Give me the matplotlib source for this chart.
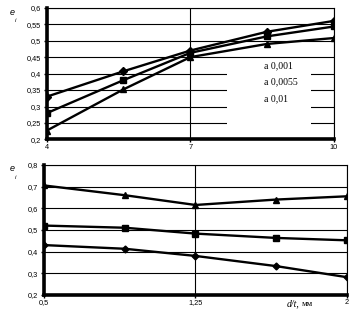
import matplotlib
matplotlib.use("Agg")
import matplotlib.pyplot as plt
from matplotlib.ticker import FuncFormatter

# Top chart data
x_top = [4, 5.6, 7, 8.6, 10]
top_diamond = [0.33, 0.407, 0.47, 0.527, 0.56]
top_square = [0.28, 0.38, 0.463, 0.513, 0.543]
top_triangle = [0.227, 0.352, 0.45, 0.49, 0.508]
top_labels = ["a 0,001", "a 0,0055", "a 0,01"]

# Bottom chart data
x_bot = [0.5, 0.9, 1.25, 1.65, 2.0]
bot_triangle = [0.705, 0.66, 0.615, 0.64, 0.655]
bot_square = [0.52, 0.51, 0.483, 0.463, 0.452]
bot_diamond = [0.43, 0.413, 0.38, 0.333, 0.282]

fig = plt.figure(figsize=(3.5, 3.22), dpi=100)
fig.patch.set_facecolor("white")

tickfont = dict(family="Liberation Sans", size=5.3)

def comma(v, pos):
    s = ("%.2f" % v).rstrip("0").rstrip(".")
    return s.replace(".", ",")

def style(ax):
    for s in ["left", "bottom"]:
        ax.spines[s].set_linewidth(2.6)
    for s in ["right", "top"]:
        ax.spines[s].set_linewidth(0.8)
    ax.grid(True, color="black", linewidth=0.8)
    ax.set_axisbelow(True)
    ax.tick_params(axis="y", direction="out", length=2.5, width=1.0, pad=2)
    ax.tick_params(axis="x", direction="out", length=2.0, width=1.0, pad=1)
    for lab in ax.get_xticklabels() + ax.get_yticklabels():
        lab.set_fontfamily(tickfont["family"])
        lab.set_fontsize(tickfont["size"])
    ax.yaxis.set_major_formatter(FuncFormatter(comma))
    ax.xaxis.set_major_formatter(FuncFormatter(comma))

lw = 1.7
# Top axes
ax1 = fig.add_axes([0.134, 0.567, 0.820, 0.409])
ax1.plot(x_top, top_diamond, color="black", lw=lw, marker="D", ms=4, zorder=3)
ax1.plot(x_top, top_square, color="black", lw=lw, marker="s", ms=4.5, zorder=3)
ax1.plot(x_top, top_triangle, color="black", lw=lw, marker="^", ms=5, zorder=3)
ax1.set_xlim(4, 10)
ax1.set_ylim(0.2, 0.6)
ax1.set_xticks([4, 7, 10])
ax1.set_yticks([0.2, 0.25, 0.3, 0.35, 0.4, 0.45, 0.5, 0.55, 0.6])
style(ax1)
# legend box (white, no frame)
ax1.fill_between([7.76, 9.52], 0.205, 0.443, color="white", zorder=2.5, lw=0)
for lab, yy in zip(top_labels, [0.425, 0.375, 0.324]):
    ax1.text(8.54, yy, lab, family="Liberation Serif", style="normal", size=7,
             va="center", ha="left", zorder=4)
fig.text(0.036, 0.962, "e", family="Liberation Sans", style="italic", size=6.5, ha="center", va="center")
fig.text(0.044, 0.936, "i", family="Liberation Sans", style="italic", size=4.5, ha="center", va="center")

# Bottom axes
ax2 = fig.add_axes([0.126, 0.084, 0.865, 0.404])
ax2.plot(x_bot, bot_triangle, color="black", lw=lw, marker="^", ms=5, zorder=3)
ax2.plot(x_bot, bot_square, color="black", lw=lw, marker="s", ms=4.5, zorder=3)
ax2.plot(x_bot, bot_diamond, color="black", lw=lw, marker="D", ms=3.5, zorder=3)
ax2.set_xlim(0.5, 2.0)
ax2.set_ylim(0.2, 0.8)
ax2.set_xticks([0.5, 1.25, 2.0])
ax2.set_yticks([0.2, 0.3, 0.4, 0.5, 0.6, 0.7, 0.8])
style(ax2)
fig.text(0.036, 0.476, "e", family="Liberation Sans", style="italic", size=6.5, ha="center", va="center")
fig.text(0.044, 0.45, "i", family="Liberation Sans", style="italic", size=4.5, ha="center", va="center")
fig.text(0.818, 0.056, "d/t,", family="Liberation Serif", style="italic", size=7, ha="left", va="center")
fig.text(0.862, 0.056, "мм", family="Liberation Serif", size=6.3, ha="left", va="center")

fig.savefig("out.png", dpi=100, facecolor="white")
